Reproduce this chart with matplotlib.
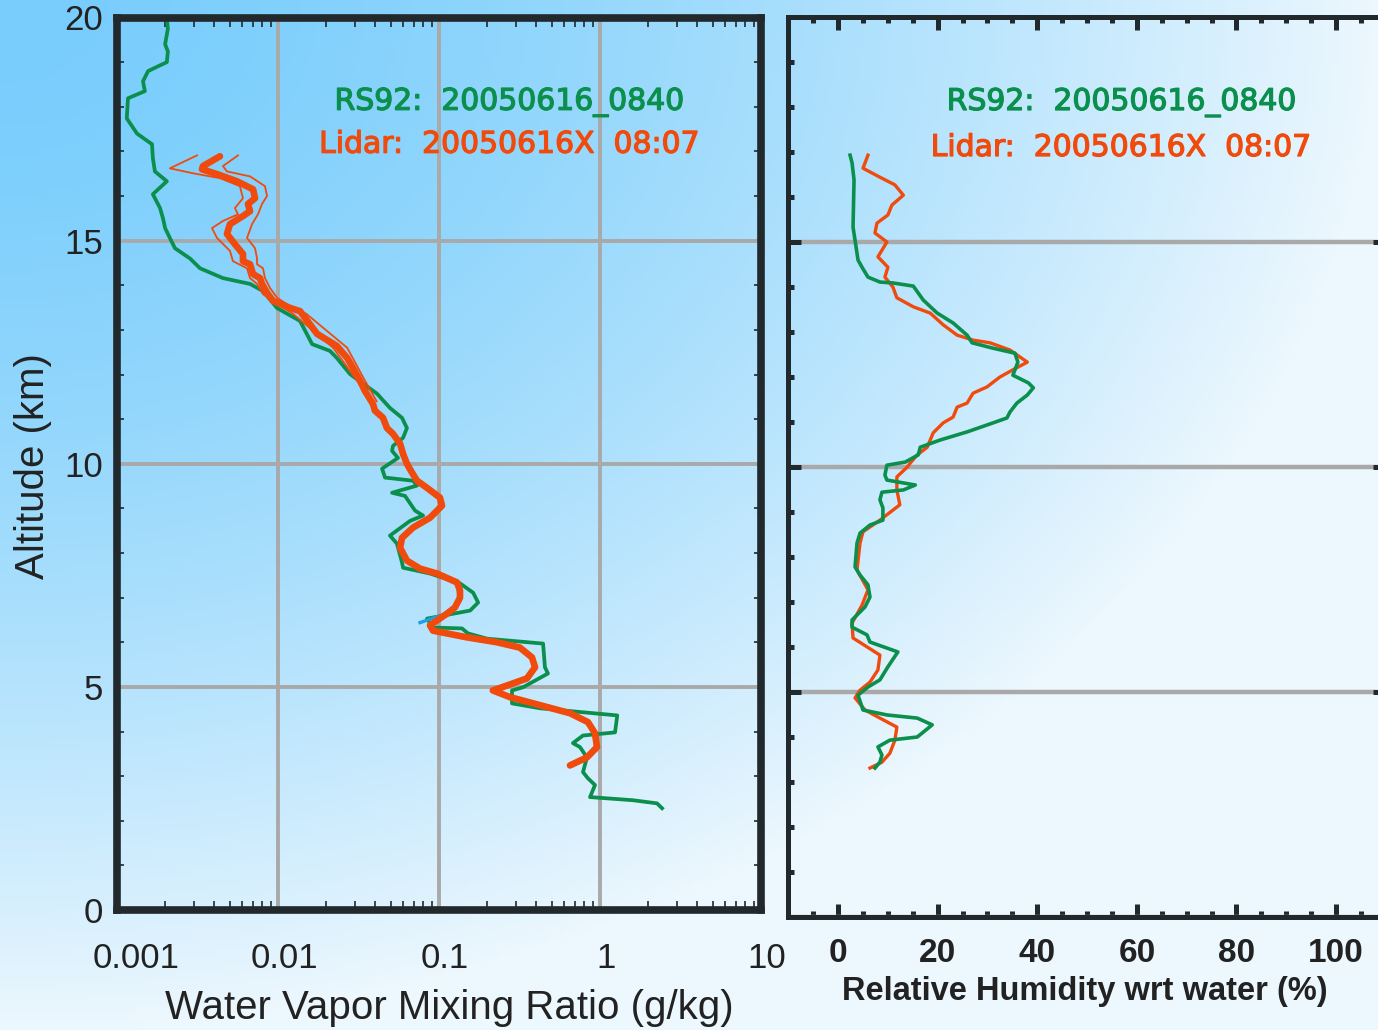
import matplotlib

matplotlib.use("Agg")
import matplotlib.patheffects as pe
import matplotlib.pyplot as plt
import matplotlib.ticker as mticker
import matplotlib.transforms as mtransforms
import numpy as np

GREEN = "#0b8f4c"
RED = "#f04a0c"
CYAN = "#1fa0e0"
GRID = "#a9a9a9"
DARK = "#22292d"

# --- left panel: water vapour mixing ratio (g/kg) vs altitude (km) ---
rs92_alt = [19.98, 19.75, 19.4, 19.24, 19.0, 18.8, 18.57, 18.35, 18.19, 17.74,
            17.4, 17.16, 16.85, 16.55, 16.33, 16.04, 15.73, 15.5, 15.28, 15.06,
            14.83, 14.6, 14.38, 14.16, 14.03, 13.87, 13.49, 13.2, 12.68, 12.53,
            12.37, 12.01, 11.57, 11.25, 11.03, 10.8, 10.58, 10.4, 10.29, 10.13,
            9.89, 9.69, 9.62, 9.51, 9.35, 9.28, 8.95, 8.84, 8.72, 8.39,
            8.21, 7.79, 7.67, 7.54, 7.32, 7.11, 6.89, 6.71, 6.53, 6.33,
            6.31, 6.2, 6.08, 5.97, 5.44, 5.3, 4.99, 4.92, 4.63, 4.52,
            4.36, 3.98, 3.91, 3.74, 3.65, 3.42, 3.09, 2.95, 2.8, 2.53,
            2.46, 2.39, 2.28]
rs92_mr = [0.00204, 0.00207, 0.00199, 0.00207, 0.00204, 0.00156, 0.00145, 0.00149, 0.00117, 0.00115,
           0.00133, 0.00165, 0.00167, 0.00172, 0.00204, 0.00167, 0.00185, 0.00193, 0.00199, 0.00213,
           0.00229, 0.00284, 0.00328, 0.00455, 0.0067, 0.00807, 0.00986, 0.0137, 0.0163, 0.0210,
           0.0232, 0.028, 0.0412, 0.0496, 0.0589, 0.0632, 0.0598, 0.0518, 0.0511, 0.0556,
           0.0443, 0.0462, 0.069, 0.073, 0.0511, 0.0615, 0.071, 0.0796, 0.0661, 0.0496,
           0.0548, 0.0589, 0.0598, 0.0879, 0.135, 0.163, 0.175, 0.156, 0.0842, 0.0918,
           0.139, 0.151, 0.199, 0.443, 0.455, 0.475, 0.332, 0.284, 0.284, 0.424,
           1.28, 1.24, 0.784, 0.679, 0.751, 0.830, 0.784, 0.842, 0.931, 0.867,
           1.60, 2.26, 2.43]

lidar_alt = [16.89, 16.67, 16.6, 16.49, 16.33, 16.15, 15.95, 15.82, 15.66, 15.55,
             15.37, 15.15, 14.92, 14.7, 14.54, 14.47, 14.25, 14.16, 14.03, 13.83,
             13.65, 13.49, 13.42, 12.91, 12.64, 12.37, 12.15, 11.86, 11.63, 11.34,
             11.19, 11.03, 10.8, 10.67, 10.45, 10.22, 10.0, 9.8, 9.62, 9.46,
             9.24, 9.06, 8.79, 8.57, 8.34, 8.12, 7.83, 7.65, 7.54, 7.34,
             7.16, 7.0, 6.87, 6.78, 6.64, 6.38, 6.26, 6.11, 6.0, 5.88,
             5.66, 5.44, 5.19, 5.03, 4.92, 4.77, 4.59, 4.41, 4.21, 3.96,
             3.65, 3.42, 3.24]
lidar_mr = [0.00436, 0.00342, 0.00337, 0.00418, 0.00556, 0.0070, 0.0072, 0.00651, 0.0067, 0.00606,
            0.00503, 0.00482, 0.0054, 0.00606, 0.00606, 0.0067, 0.0070, 0.00773, 0.00795, 0.00855,
            0.00931, 0.0119, 0.0137, 0.0175, 0.0232, 0.0269, 0.0292, 0.0323, 0.0347, 0.0389,
            0.0400, 0.0449, 0.0475, 0.0518, 0.0573, 0.0598, 0.0632, 0.068, 0.073, 0.0842,
            0.1014, 0.1044, 0.0879, 0.069, 0.0589, 0.0573, 0.0632, 0.0762, 0.0972, 0.1294,
            0.135, 0.135, 0.1294, 0.1256, 0.112, 0.0879, 0.0918, 0.149, 0.229, 0.318,
            0.378, 0.395, 0.352, 0.264, 0.216, 0.276, 0.424, 0.651, 0.842, 0.931,
            0.958, 0.830, 0.651]

# lidar error envelope (thin lines)
lidar_lo_alt = [16.91, 16.62, 16.51, 16.4, 16.22, 15.95, 15.73, 15.59, 15.44, 15.28,
                15.06, 14.77, 14.54, 14.38, 14.16, 14.03, 13.8, 13.58, 13.36, 12.6,
                11.86, 11.4]
lidar_lo_mr = [0.00314, 0.00213, 0.00296, 0.00436, 0.0058, 0.00606, 0.0054, 0.00564, 0.00455, 0.00389,
               0.00418, 0.00503, 0.00525, 0.00642, 0.0067, 0.00741, 0.00807, 0.00986, 0.0124, 0.022,
               0.031, 0.038]
lidar_hi_alt = [16.91, 16.67, 16.55, 16.44, 16.22, 16.0, 15.82, 15.59, 15.37, 15.06,
                14.83, 14.6, 14.47, 14.38, 14.16, 13.94, 13.72, 13.49, 13.36, 12.6,
                11.86, 11.4]
lidar_hi_mr = [0.00564, 0.00455, 0.00482, 0.0067, 0.0083, 0.00855, 0.00795, 0.00751, 0.0069, 0.00642,
               0.0072, 0.00741, 0.00741, 0.00807, 0.0083, 0.00892, 0.00986, 0.0124, 0.0150, 0.0269,
               0.0347, 0.041]

cyan_alt = [7.2, 6.92, 6.67, 6.44]
cyan_mr = [0.131, 0.135, 0.117, 0.0762]

# --- right panel: relative humidity wrt water (%) ---
rs92_rh_alt = [16.93, 16.76, 16.38, 15.33, 15.04, 14.6, 14.44, 14.22, 14.11, 14.09,
               14.02, 13.71, 13.42, 13.2, 12.93, 12.76, 12.64, 12.53, 12.33, 12.04,
               11.87, 11.76, 11.6, 11.42, 11.22, 11.09, 10.98, 10.78, 10.6, 10.44,
               10.27, 10.11, 10.04, 9.82, 9.71, 9.6, 9.49, 9.44, 9.27, 9.09,
               8.82, 8.71, 8.53, 8.31, 7.78, 7.6, 7.38, 7.11, 6.89, 6.6,
               6.44, 6.27, 6.11, 5.89, 5.56, 5.27, 5.11, 4.93, 4.6, 4.49,
               4.42, 4.27, 4.0, 3.93, 3.78, 3.6, 3.44, 3.31]
rs92_rh = [2.4, 2.8, 3.2, 3.0, 3.4, 4.0, 4.8, 6.0, 8.4, 11.0,
           15.1, 17.1, 19.9, 23.1, 25.9, 26.9, 31.1, 35.5, 36.1, 35.1,
           38.2, 39.2, 38.0, 35.9, 34.5, 33.9, 31.1, 25.9, 20.5, 16.5,
           16.1, 13.5, 9.8, 9.4, 9.8, 15.5, 13.1, 8.8, 8.4, 9.0,
           9.0, 6.4, 4.4, 3.8, 3.4, 4.4, 6.0, 6.4, 5.4, 2.8,
           2.8, 5.8, 6.4, 12.0, 10.0, 8.4, 6.0, 4.0, 5.0, 9.8,
           15.9, 18.9, 15.9, 10.4, 8.0, 8.8, 8.4, 7.4]

lidar_rh_alt = [16.93, 16.64, 16.44, 16.27, 16.04, 15.82, 15.6, 15.42, 15.2, 15.0,
                14.67, 14.44, 14.22, 14.0, 13.76, 13.56, 13.42, 13.16, 12.93, 12.82,
                12.76, 12.6, 12.33, 12.16, 12.0, 11.78, 11.64, 11.42, 11.33, 11.11,
                10.98, 10.76, 10.44, 10.27, 10.09, 10.0, 9.78, 9.49, 9.16, 8.82,
                8.56, 8.31, 7.71, 7.27, 6.93, 6.53, 6.2, 5.82, 5.49, 5.22,
                5.04, 4.87, 4.6, 4.42, 4.22, 3.93, 3.64, 3.44, 3.31]
lidar_rh = [6.0, 5.0, 8.4, 11.4, 13.1, 10.8, 10.0, 7.8, 7.4, 9.8,
            8.0, 10.0, 9.4, 11.0, 11.8, 15.1, 18.5, 21.1, 23.9, 27.1,
            30.5, 34.5, 38.0, 35.1, 32.5, 29.9, 27.1, 25.9, 23.9, 23.1,
            21.1, 19.1, 17.9, 15.9, 14.5, 13.9, 11.8, 11.8, 12.4, 8.4,
            5.0, 4.4, 3.8, 6.0, 4.8, 2.8, 3.0, 8.4, 8.0, 6.4,
            4.4, 3.4, 5.4, 8.4, 11.8, 11.4, 10.4, 8.8, 6.4]

mr_ticks = [1e-3, 1e-2, 1e-1, 1, 10]
mr_ticklabels = ["0.001", "0.01", "0.1", "1", "10"]
mr_label_shift_px = [19, 6, 6, 6, 6]
rs92_label = "RS92:  20050616_0840"
lidar_label = "Lidar:  20050616X  08:07"

plt.rcParams["font.family"] = ["Liberation Sans", "DejaVu Sans"]

W, H = 1378, 1030
fig = plt.figure(figsize=(W / 100, H / 100), dpi=100)

# background gradient
bg = fig.add_axes([0, 0, 1, 1], zorder=-10)
yy, xx = np.mgrid[0:1:206j, 0:1:276j]
t = np.clip(np.hypot(xx, yy), 0, 1) ** 1.6
c0 = np.array([120, 205, 252]) / 255
c1 = np.array([236, 247, 254]) / 255
bg.imshow(c0 + (c1 - c0) * t[..., None], extent=[0, 1, 0, 1], aspect="auto")
bg.set_xlim(0, 1)
bg.set_ylim(0, 1)
bg.axis("off")


def heavy(color):
    return [pe.withStroke(linewidth=0.9, foreground=color)]


# ---------------- left panel ----------------
ax1 = fig.add_axes([117 / W, 1 - 910 / H, 644 / W, 892.5 / H])
ax1.set_facecolor("none")
ax1.set_xscale("log")
ax1.set_xlim(1e-3, 10)
ax1.set_ylim(0, 20)

ax1.plot(rs92_mr, rs92_alt, color=GREEN, lw=2.7, solid_joinstyle="round")
ax1.plot(cyan_mr, cyan_alt, color=CYAN, lw=2.4)
ax1.plot(lidar_lo_mr, lidar_lo_alt, color=RED, lw=1.3)
ax1.plot(lidar_hi_mr, lidar_hi_alt, color=RED, lw=1.3)
ax1.plot(lidar_mr, lidar_alt, color=RED, lw=4.8, solid_joinstyle="round",
         solid_capstyle="round")

ax1.set_xticks(mr_ticks)
ax1.set_xticklabels(mr_ticklabels)
ax1.xaxis.set_minor_locator(mticker.LogLocator(base=10, subs=np.arange(2, 10)))
ax1.xaxis.set_minor_formatter(mticker.NullFormatter())
ax1.yaxis.set_major_locator(mticker.MultipleLocator(5))
ax1.yaxis.set_minor_locator(mticker.MultipleLocator(1))
ax1.grid(True, which="major", color=GRID, lw=2.8)
ax1.tick_params(which="major", length=0, labelsize=25, labelcolor="#222222")
ax1.tick_params(axis="x", which="major", pad=23)
ax1.tick_params(axis="y", which="major", pad=10)
ax1.tick_params(which="minor", direction="in", width=1.2, color=DARK,
                top=True, right=True)
ax1.tick_params(axis="x", which="minor", length=6.5)
ax1.tick_params(axis="y", which="minor", length=5)
for sp in ax1.spines.values():
    sp.set_linewidth(5.5)
    sp.set_color(DARK)

for lab, dx in zip(ax1.get_xticklabels(), mr_label_shift_px):
    lab.set_transform(lab.get_transform()
                      + mtransforms.ScaledTranslation(dx / 100, 0, fig.dpi_scale_trans))

ax1.set_xlabel("Water Vapor Mixing Ratio (g/kg)", fontsize=29, color="#222222")
ax1.xaxis.set_label_coords(0.5155, -0.088)
ax1.set_ylabel("Altitude (km)", fontsize=29, color="#222222")
ax1.yaxis.set_label_coords(-0.101, 0.4975)

ax1.text(0.610, 0.9050, rs92_label, transform=ax1.transAxes, ha="center",
         va="center", fontsize=21.5, color=GREEN, family="DejaVu Sans",
         path_effects=heavy(GREEN))
ax1.text(0.610, 0.8580, lidar_label, transform=ax1.transAxes, ha="center",
         va="center", fontsize=21.5, color=RED, family="DejaVu Sans",
         path_effects=heavy(RED))

# ---------------- right panel ----------------
ax2 = fig.add_axes([788.3 / W, 1 - 917 / H, 597.6 / W, 900 / H])
ax2.set_facecolor("none")
ax2.set_xlim(-10, 110)
ax2.set_ylim(0, 20)

ax2.plot(lidar_rh, lidar_rh_alt, color=RED, lw=2.4, solid_joinstyle="round")
ax2.plot(rs92_rh, rs92_rh_alt, color=GREEN, lw=2.6, solid_joinstyle="round")

ax2.xaxis.set_major_locator(mticker.MultipleLocator(20))
ax2.xaxis.set_minor_locator(mticker.MultipleLocator(5))
ax2.yaxis.set_major_locator(mticker.MultipleLocator(5))
ax2.yaxis.set_minor_locator(mticker.MultipleLocator(1))
ax2.grid(True, axis="y", which="major", color=GRID, lw=3.2)
ax2.tick_params(which="both", direction="in", width=3.6, color=DARK,
                top=True, right=True, labelleft=False)
ax2.tick_params(which="major", length=9.5)
ax2.tick_params(which="minor", length=4)
ax2.tick_params(axis="x", which="major", pad=15, labelsize=24,
                labelcolor="#222222")
for lab in ax2.get_xticklabels():
    lab.set_fontweight("bold")
for sp in ax2.spines.values():
    sp.set_linewidth(3.6)
    sp.set_color(DARK)

ax2.set_xlabel("Relative Humidity wrt water (%)", fontsize=23.5,
               fontweight="bold", color="#222222")
ax2.xaxis.set_label_coords(0.4965, -0.066)

ax2.text(0.5584, 0.9050, rs92_label, transform=ax2.transAxes, ha="center",
         va="center", fontsize=21.5, color=GREEN, family="DejaVu Sans",
         path_effects=heavy(GREEN))
ax2.text(0.5575, 0.8550, lidar_label, transform=ax2.transAxes, ha="center",
         va="center", fontsize=21.5, color=RED, family="DejaVu Sans",
         path_effects=heavy(RED))

fig.savefig("out.png", dpi=100)
